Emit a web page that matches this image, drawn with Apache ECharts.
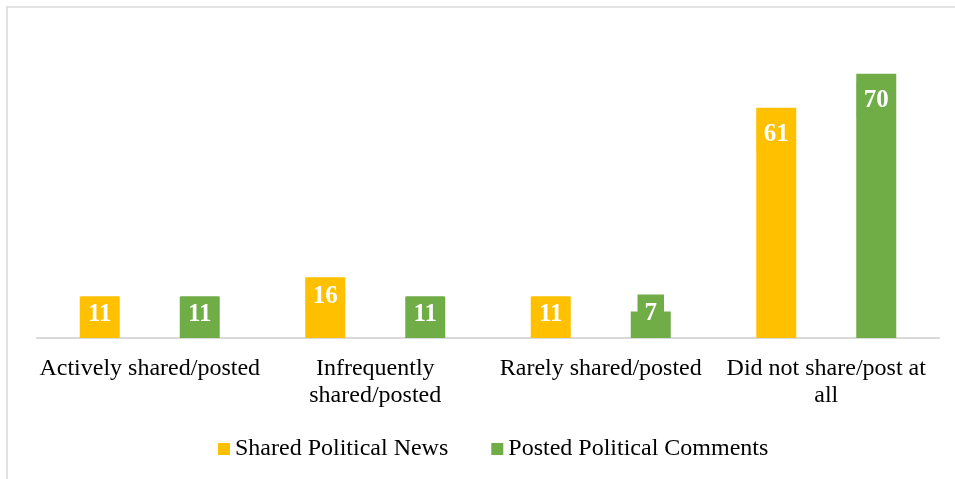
<!DOCTYPE html>
<html>
<head>
<meta charset="utf-8">
<script src="https://cdn.jsdelivr.net/npm/echarts@6/dist/echarts.min.js"></script>
<style>
html,body{margin:0;padding:0;background:#fff;}
#chart{width:955px;height:479px;}
</style>
</head>
<body>
<div id="chart"></div>
<script>
var categories = ['Actively shared/posted', 'Infrequently\nshared/posted', 'Rarely shared/posted', 'Did not share/post at\nall'];
var sharedNews = [11, 16, 11, 61];
var postedComments = [11, 11, 7, 70];
var seriesNames = ['Shared Political News', 'Posted Political Comments'];
var colors = ['#FFC000', '#70AD47'];

var chart = echarts.init(document.getElementById('chart'));
var FONT = '"Liberation Serif", "Times New Roman", serif';

function buildData(arr) {
  return arr.map(function (v) {
    var item = { value: v };
    if (v < 10) {
      item.label = { offset: [0, -17] };
    } else if (v > 30) {
      item.label = { offset: [0, 8] };
    }
    return item;
  });
}

function makeSeries(name, arr, color) {
  return {
    name: name,
    type: 'bar',
    data: buildData(arr),
    barWidth: 40,
    barGap: '150%',
    itemStyle: { color: color },
    label: {
      show: true,
      position: 'insideTop',
      distance: 0,
      color: '#ffffff',
      fontFamily: FONT,
      fontWeight: 'bold',
      fontSize: 25,
      backgroundColor: color,
      padding: [6, 7, 5, 7],
      lineHeight: 25
    }
  };
}

chart.setOption({
  animation: false,
  color: colors,
  graphic: [{
    type: 'rect',
    shape: { x: 7, y: 7, width: 1000, height: 600 },
    style: { fill: 'none', stroke: '#d9d9d9', lineWidth: 1.5 },
    silent: true
  }],
  grid: { left: 37, right: 16, top: 36, bottom: 141, containLabel: false },
  legend: {
    top: 432,
    left: 213,
    itemWidth: 12,
    itemHeight: 12,
    itemGap: 43,
    icon: 'rect',
    textStyle: { fontFamily: FONT, fontSize: 24, color: '#000' },
    data: seriesNames
  },
  xAxis: {
    type: 'category',
    data: categories,
    axisLine: { lineStyle: { color: '#d9d9d9', width: 2 } },
    axisTick: { show: false },
    axisLabel: {
      interval: 0,
      margin: 17,
      fontFamily: FONT,
      fontSize: 24,
      color: '#000',
      lineHeight: 27
    }
  },
  yAxis: {
    type: 'value',
    min: 0,
    max: 80,
    show: false,
    splitLine: { show: false }
  },
  series: [
    makeSeries(seriesNames[0], sharedNews, colors[0]),
    makeSeries(seriesNames[1], postedComments, colors[1])
  ]
});
</script>
</body>
</html>
